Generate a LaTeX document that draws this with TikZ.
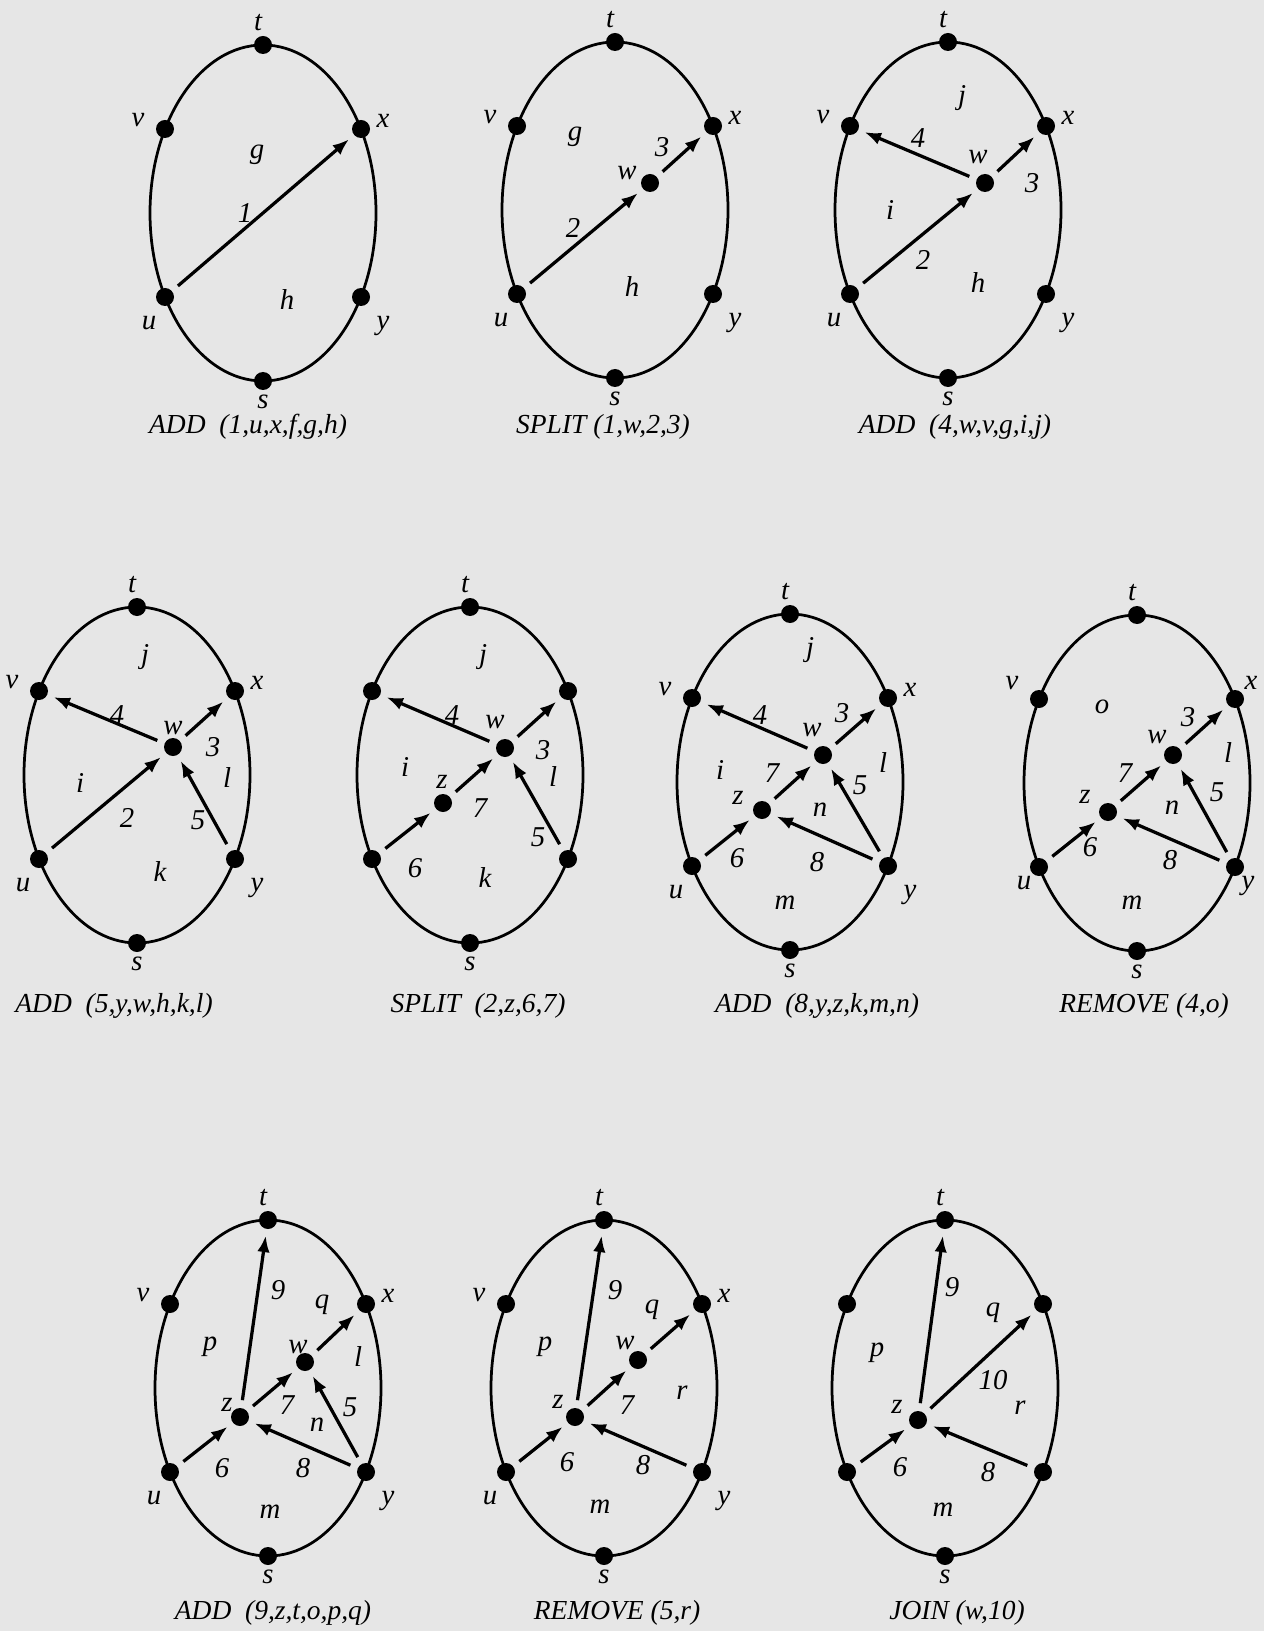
\documentclass[tikz,border=0pt]{standalone}
\usepackage{fontspec}
\setmainfont{Liberation Serif}
\usetikzlibrary{positioning,arrows.meta,calc}
\definecolor{paper}{RGB}{230,230,230}

\begin{document}
\begin{tikzpicture}[x=0.4pt, y=-0.4pt,
        oval/.style={line width=1.1pt},
        dot/.style={circle, fill=black, inner sep=0pt, minimum size=7.2pt},
        lbl/.style={font=\fontsize{11.5}{13}\selectfont\itshape, inner sep=0pt},
        captxt/.style={font=\fontsize{11}{13}\selectfont\itshape, inner sep=0pt},
        arr/.style={-{Latex[length=6.6pt,width=5pt]}, line width=1.3pt, shorten <=3pt, shorten >=2.5pt}
    ]
    \fill[paper] (0,0) rectangle (1264,1631);
    \useasboundingbox (0,0) rectangle (1264,1631);

    % the ten ovals with their fixed vertices
    \foreach \p/\cx/\cy in {A/263/213, B/615/210, C/948/210, D/137/775, E/470/775,
                            F/790/782, G/1137/783, H/268/1388, I/604/1388, J/945/1388} {
        \begin{scope}[shift={(\cx,\cy)}]
            \draw[oval] (0,0) ellipse [x radius=113, y radius=168];
            \node[dot] (\p-t) at (0,-168) {};
            \node[dot] (\p-s) at (0,168) {};
            \node[dot] (\p-v) at (-98,-84) {};
            \node[dot] (\p-x) at (98,-84) {};
            \node[dot] (\p-u) at (-98,84) {};
            \node[dot] (\p-y) at (98,84) {};
            \node[lbl] (\p-lt) at (-5,-190) {t};
            \node[lbl] (\p-ls) at (0,189) {s};
        \end{scope}
    }
    \foreach \p in {A,B,C,D,F,H,I} {
        \node[lbl] (\p-lv) at ($(\p-v)+(-27,-9)$) {v};
        \node[lbl] (\p-lx) at ($(\p-x)+(22,-8)$) {x};
        \node[lbl] (\p-lu) at ($(\p-u)+(-16,26)$) {u};
        \node[lbl] (\p-ly) at ($(\p-y)+(22,29)$) {y};
    }
    \node[lbl] (G-lv) at ($(G-v)+(-27,-16)$) {v};
    \node[lbl] (G-lx) at ($(G-x)+(16,-16)$) {x};
    \node[lbl] (G-lu) at ($(G-u)+(-15,16)$) {u};
    \node[lbl] (G-ly) at ($(G-y)+(13,19)$) {y};

    % ADD (1,u,x,f,g,h)
    \begin{scope}[shift={(263,213)}]
        \node[lbl] (A-fg) at (-6,-58) {g};
        \node[lbl] (A-e1) at (-18,0) {1};
        \node[lbl] (A-fh) at (24,87) {h};
        \draw[arr] (A-u) -- (A-x);
        \node[captxt] (A-cap) at (-15,214) {ADD~~(1,u,x,f,g,h)};
    \end{scope}

    % SPLIT (1,w,2,3)
    \begin{scope}[shift={(615,210)}]
        \node[dot] (B-w) at (35,-27) {};
        \node[lbl] (B-lw) at (12,-37) {w};
        \node[lbl] (B-fg) at (-40,-73) {g};
        \node[lbl] (B-e3) at (47,-63) {3};
        \node[lbl] (B-e2) at (-42,18) {2};
        \node[lbl] (B-fh) at (17,77) {h};
        \draw[arr] (B-u) -- (B-w);
        \draw[arr] (B-w) -- (B-x);
        \node[captxt] (B-cap) at (-12,217) {SPLIT (1,w,2,3)};
    \end{scope}

    % ADD (4,w,v,g,i,j)
    \begin{scope}[shift={(948,210)}]
        \node[dot] (C-w) at (37,-27) {};
        \node[lbl] (C-lw) at (30,-53) {w};
        \node[lbl] (C-fj) at (14,-112) {j};
        \node[lbl] (C-e4) at (-30,-72) {4};
        \node[lbl] (C-e3) at (84,-27) {3};
        \node[lbl] (C-fi) at (-58,0) {i};
        \node[lbl] (C-e2) at (-25,50) {2};
        \node[lbl] (C-fh) at (30,73) {h};
        \draw[arr] (C-u) -- (C-w);
        \draw[arr] (C-w) -- (C-x);
        \draw[arr] (C-w) -- (C-v);
        \node[captxt] (C-cap) at (7,217) {ADD~~(4,w,v,g,i,j)};
    \end{scope}

    % ADD (5,y,w,h,k,l)
    \begin{scope}[shift={(137,775)}]
        \node[dot] (D-w) at (36,-28) {};
        \node[lbl] (D-lw) at (36,-47) {w};
        \node[lbl] (D-fj) at (8,-118) {j};
        \node[lbl] (D-e4) at (-20,-60) {4};
        \node[lbl] (D-e3) at (76,-28) {3};
        \node[lbl] (D-fl) at (90,3) {l};
        \node[lbl] (D-fi) at (-57,8) {i};
        \node[lbl] (D-e2) at (-10,43) {2};
        \node[lbl] (D-e5) at (61,45) {5};
        \node[lbl] (D-fk) at (23,97) {k};
        \draw[arr] (D-u) -- (D-w);
        \draw[arr] (D-w) -- (D-x);
        \draw[arr] (D-w) -- (D-v);
        \draw[arr] (D-y) -- (D-w);
        \node[captxt] (D-cap) at (-23,231) {ADD~~(5,y,w,h,k,l)};
    \end{scope}

    % SPLIT (2,z,6,7)
    \begin{scope}[shift={(470,775)}]
        \node[dot] (E-w) at (35,-27) {};
        \node[dot] (E-z) at (-27,28) {};
        \node[lbl] (E-lw) at (25,-53) {w};
        \node[lbl] (E-lz) at (-28,7) {z};
        \node[lbl] (E-fj) at (13,-118) {j};
        \node[lbl] (E-e4) at (-18,-60) {4};
        \node[lbl] (E-e3) at (73,-25) {3};
        \node[lbl] (E-fl) at (83,2) {l};
        \node[lbl] (E-fi) at (-65,-8) {i};
        \node[lbl] (E-e7) at (10,33) {7};
        \node[lbl] (E-e5) at (68,62) {5};
        \node[lbl] (E-e6) at (-55,93) {6};
        \node[lbl] (E-fk) at (15,103) {k};
        \draw[arr] (E-u) -- (E-z);
        \draw[arr] (E-z) -- (E-w);
        \draw[arr] (E-w) -- (E-x);
        \draw[arr] (E-w) -- (E-v);
        \draw[arr] (E-y) -- (E-w);
        \node[captxt] (E-cap) at (8,231) {SPLIT~~(2,z,6,7)};
    \end{scope}

    % ADD (8,y,z,k,m,n)
    \begin{scope}[shift={(790,782)}]
        \node[dot] (F-w) at (33,-27) {};
        \node[dot] (F-z) at (-28,28) {};
        \node[lbl] (F-lw) at (22,-52) {w};
        \node[lbl] (F-lz) at (-52,16) {z};
        \node[lbl] (F-fj) at (20,-132) {j};
        \node[lbl] (F-e4) at (-30,-67) {4};
        \node[lbl] (F-e3) at (52,-69) {3};
        \node[lbl] (F-fl) at (93,-19) {l};
        \node[lbl] (F-fi) at (-70,-12) {i};
        \node[lbl] (F-e7) at (-18,-9) {7};
        \node[lbl] (F-e5) at (70,3) {5};
        \node[lbl] (F-fn) at (30,28) {n};
        \node[lbl] (F-e6) at (-53,76) {6};
        \node[lbl] (F-e8) at (27,80) {8};
        \node[lbl] (F-fm) at (-5,121) {m};
        \draw[arr] (F-u) -- (F-z);
        \draw[arr] (F-z) -- (F-w);
        \draw[arr] (F-w) -- (F-x);
        \draw[arr] (F-w) -- (F-v);
        \draw[arr] (F-y) -- (F-w);
        \draw[arr] (F-y) -- (F-z);
        \node[captxt] (F-cap) at (27,224) {ADD~~(8,y,z,k,m,n)};
    \end{scope}

    % REMOVE (4,o)
    \begin{scope}[shift={(1137,783)}]
        \node[dot] (G-w) at (36,-28) {};
        \node[dot] (G-z) at (-29,29) {};
        \node[lbl] (G-lw) at (20,-46) {w};
        \node[lbl] (G-lz) at (-52,14) {z};
        \node[lbl] (G-fo) at (-35,-76) {o};
        \node[lbl] (G-e3) at (51,-66) {3};
        \node[lbl] (G-fl) at (91,-30) {l};
        \node[lbl] (G-e7) at (-12,-10) {7};
        \node[lbl] (G-e5) at (80,9) {5};
        \node[lbl] (G-fn) at (35,25) {n};
        \node[lbl] (G-e6) at (-47,64) {6};
        \node[lbl] (G-e8) at (33,77) {8};
        \node[lbl] (G-fm) at (-5,120) {m};
        \draw[arr] (G-u) -- (G-z);
        \draw[arr] (G-z) -- (G-w);
        \draw[arr] (G-w) -- (G-x);
        \draw[arr] (G-y) -- (G-w);
        \draw[arr] (G-y) -- (G-z);
        \node[captxt] (G-cap) at (7,223) {REMOVE (4,o)};
    \end{scope}

    % ADD (9,z,t,o,p,q)
    \begin{scope}[shift={(268,1388)}]
        \node[dot] (H-w) at (37,-26) {};
        \node[dot] (H-z) at (-28,29) {};
        \node[lbl] (H-lw) at (30,-41) {w};
        \node[lbl] (H-lz) at (-41,17) {z};
        \node[lbl] (H-e9) at (10,-98) {9};
        \node[lbl] (H-fq) at (54,-83) {q};
        \node[lbl] (H-fp) at (-58,-41) {p};
        \node[lbl] (H-fl) at (90,-31) {l};
        \node[lbl] (H-e7) at (19,17) {7};
        \node[lbl] (H-e5) at (82,19) {5};
        \node[lbl] (H-fn) at (49,37) {n};
        \node[lbl] (H-e6) at (-46,80) {6};
        \node[lbl] (H-e8) at (35,80) {8};
        \node[lbl] (H-fm) at (2,124) {m};
        \draw[arr] (H-u) -- (H-z);
        \draw[arr] (H-z) -- (H-w);
        \draw[arr] (H-w) -- (H-x);
        \draw[arr] (H-y) -- (H-w);
        \draw[arr] (H-y) -- (H-z);
        \draw[arr] (H-z) -- (H-t);
        \node[captxt] (H-cap) at (5,225) {ADD~~(9,z,t,o,p,q)};
    \end{scope}

    % REMOVE (5,r)
    \begin{scope}[shift={(604,1388)}]
        \node[dot] (I-w) at (34,-28) {};
        \node[dot] (I-z) at (-29,29) {};
        \node[lbl] (I-lw) at (21,-45) {w};
        \node[lbl] (I-lz) at (-46,14) {z};
        \node[lbl] (I-e9) at (11,-98) {9};
        \node[lbl] (I-fq) at (48,-78) {q};
        \node[lbl] (I-fp) at (-59,-41) {p};
        \node[lbl] (I-fr) at (78,5) {r};
        \node[lbl] (I-e7) at (23,17) {7};
        \node[lbl] (I-e6) at (-37,74) {6};
        \node[lbl] (I-e8) at (39,77) {8};
        \node[lbl] (I-fm) at (-4,119) {m};
        \draw[arr] (I-u) -- (I-z);
        \draw[arr] (I-z) -- (I-w);
        \draw[arr] (I-w) -- (I-x);
        \draw[arr] (I-y) -- (I-z);
        \draw[arr] (I-z) -- (I-t);
        \node[captxt] (I-cap) at (13,225) {REMOVE (5,r)};
    \end{scope}

    % JOIN (w,10)
    \begin{scope}[shift={(945,1388)}]
        \node[dot] (J-z) at (-27,32) {};
        \node[lbl] (J-lz) at (-48,19) {z};
        \node[lbl] (J-e9) at (7,-101) {9};
        \node[lbl] (J-fq) at (48,-75) {q};
        \node[lbl] (J-fp) at (-68,-35) {p};
        \node[lbl] (J-e10) at (48,-8) {10};
        \node[lbl] (J-fr) at (75,20) {r};
        \node[lbl] (J-e6) at (-45,79) {6};
        \node[lbl] (J-e8) at (43,84) {8};
        \node[lbl] (J-fm) at (-2,122) {m};
        \draw[arr] (J-u) -- (J-z);
        \draw[arr] (J-z) -- (J-x);
        \draw[arr] (J-y) -- (J-z);
        \draw[arr] (J-z) -- (J-t);
        \node[captxt] (J-cap) at (12,225) {JOIN (w,10)};
    \end{scope}
\end{tikzpicture}
\end{document}
